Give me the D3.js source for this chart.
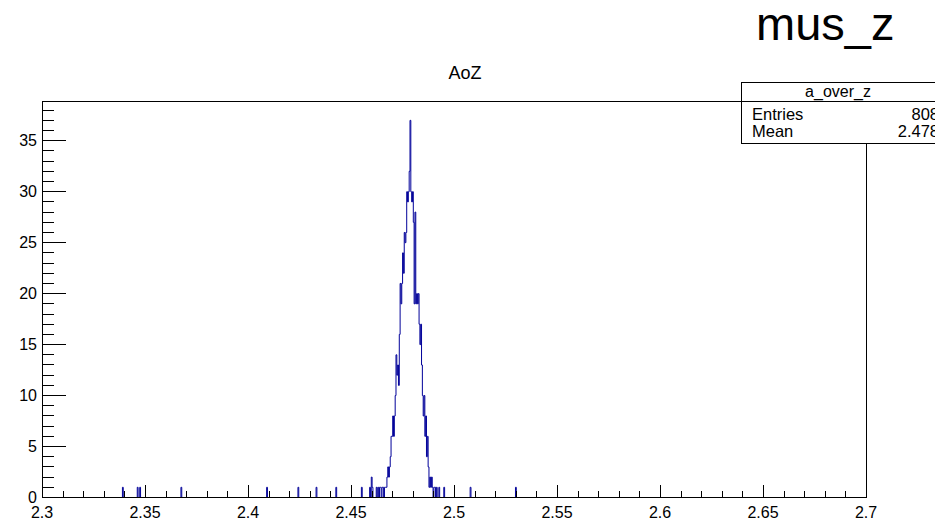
<!DOCTYPE html>
<html>
<head>
<meta charset="utf-8">
<script src="https://cdn.jsdelivr.net/npm/d3@7"></script>
<style>
  html, body { margin: 0; padding: 0; background: #fff; }
  svg { display: block; }
  text { font-family: "Liberation Sans", Arial, Helvetica, sans-serif; }
</style>
</head>
<body>
<svg id="chart" width="935" height="521"></svg>
<script>
// ---- histogram definition ----
const nBins = 1000;
const xMin = 2.3;
const xMax = 2.7;
// non-empty bins (bin index) and their contents
const binIndex = [
  97, 115, 118, 168, 272, 310, 332, 356, 387,
  397, 399, 400, 405, 407, 409, 410, 412, 413, 415, 416, 417,
  418, 419, 420, 421, 422, 423, 424, 425, 426, 427,
  428, 429, 430, 431, 432, 433, 434, 435, 436, 437,
  438, 439, 440, 441, 442, 443, 444, 445, 446, 447,
  448, 449, 450, 451, 452, 453, 454, 455, 456, 457,
  458, 459, 460, 461, 462, 463, 464, 465, 466, 467,
  468, 469, 470, 471, 472, 473,
  475, 476, 478, 481, 487, 519, 574
];
const binCounts = [
  1, 1, 1, 1, 1, 1, 1, 1, 1,
  1, 2, 1, 1, 1, 1, 1, 1, 1, 1, 1, 1,
  2, 3, 2, 3, 4, 6, 6, 8, 6, 8,
  10, 14, 12, 13, 11, 16, 21, 19, 21, 24,
  22, 26, 25, 26, 30, 29, 30, 32, 37, 30,
  29, 30, 27, 19, 28, 19, 20, 19, 20, 17,
  15, 17, 13, 10, 8, 10, 6, 8, 4, 6,
  3, 1, 2, 1, 2, 1,
  1, 1, 1, 1, 1, 1, 1
];
const yMaxValue = 37 * 1.05;
const yTickLabels = [0, 5, 10, 15, 20, 25, 30, 35];
const xTickLabels = [2.3, 2.35, 2.4, 2.45, 2.5, 2.55, 2.6, 2.65, 2.7];
const histTitle = "AoZ";
const canvasName = "mus_z";
const statsName = "a_over_z";
const statsRows = [["Entries", "808"], ["Mean", "2.478"]];

// ---- layout ----
const frame = { left: 42, right: 866, top: 101, bottom: 497 };
const svg = d3.select("#chart");
const x = d3.scaleLinear().domain([xMin, xMax]).range([frame.left, frame.right]);
const y = d3.scaleLinear().domain([0, yMaxValue]).range([frame.bottom, frame.top]);

// full bin contents
const counts = new Array(nBins).fill(0);
binIndex.forEach((b, i) => { counts[b] = binCounts[i]; });
const binW = (xMax - xMin) / nBins;

// histogram step path
const pts = [[x(xMin), y(0)]];
for (let i = 0; i < nBins; i++) {
  const x0 = x(xMin + i * binW), x1 = x(xMin + (i + 1) * binW);
  pts.push([x0, y(counts[i])]);
  pts.push([x1, y(counts[i])]);
}
pts.push([x(xMax), y(0)]);
svg.append("path")
  .attr("transform", "translate(0.5,0.5)")
  .attr("d", d3.line()(pts))
  .attr("fill", "none")
  .attr("stroke", "#000099")
  .attr("stroke-width", 1);

// frame
svg.append("rect")
  .attr("x", frame.left + 0.5).attr("y", frame.top + 0.5)
  .attr("width", frame.right - frame.left).attr("height", frame.bottom - frame.top)
  .attr("fill", "none").attr("stroke", "#000").attr("stroke-width", 1)
  .attr("shape-rendering", "crispEdges");

// x axis ticks (inward)
const xMajor = d3.range(0, 9).map(i => xMin + i * 0.05);
const xMinor = d3.range(0, 41).map(i => xMin + i * 0.01);
const gx = svg.append("g").attr("shape-rendering", "crispEdges");
xMinor.forEach(v => {
  gx.append("line").attr("x1", Math.round(x(v)) + 0.5).attr("x2", Math.round(x(v)) + 0.5)
    .attr("y1", frame.bottom).attr("y2", frame.bottom - 6).attr("stroke", "#000");
});
xMajor.forEach(v => {
  gx.append("line").attr("x1", Math.round(x(v)) + 0.5).attr("x2", Math.round(x(v)) + 0.5)
    .attr("y1", frame.bottom).attr("y2", frame.bottom - 12).attr("stroke", "#000");
});
xTickLabels.forEach(v => {
  svg.append("text").attr("x", x(v)).attr("y", 518)
    .attr("text-anchor", "middle").attr("font-size", 16).attr("fill", "#000")
    .text(String(v));
});

// y axis ticks (inward)
const gy = svg.append("g").attr("shape-rendering", "crispEdges");
d3.range(0, 39).forEach(v => {
  const len = v % 5 === 0 ? 24 : 12;
  gy.append("line").attr("x1", frame.left).attr("x2", frame.left + len)
    .attr("y1", Math.round(y(v)) + 0.5).attr("y2", Math.round(y(v)) + 0.5).attr("stroke", "#000");
});
yTickLabels.forEach(v => {
  svg.append("text").attr("x", 37).attr("y", y(v) + 5.5)
    .attr("text-anchor", "end").attr("font-size", 16).attr("fill", "#000")
    .text(String(v));
});

// title
svg.append("text").attr("x", 465).attr("y", 79).attr("text-anchor", "middle")
  .attr("font-size", 18).attr("fill", "#000").text(histTitle);

// canvas name
svg.append("text").attr("x", 756).attr("y", 40).attr("text-anchor", "start")
  .attr("font-size", 47).attr("fill", "#000").text(canvasName);

// stats box
const sb = { left: 741, top: 82, right: 940, bottom: 143, sep: 101 };
svg.append("rect").attr("x", sb.left + 0.5).attr("y", sb.top + 0.5)
  .attr("width", sb.right - sb.left).attr("height", sb.bottom - sb.top)
  .attr("fill", "#fff").attr("stroke", "#000").attr("shape-rendering", "crispEdges");
svg.append("line").attr("x1", sb.left).attr("x2", sb.right)
  .attr("y1", sb.sep + 0.5).attr("y2", sb.sep + 0.5).attr("stroke", "#000")
  .attr("shape-rendering", "crispEdges");
svg.append("text").attr("x", 838).attr("y", 97).attr("text-anchor", "middle")
  .attr("font-size", 16).attr("fill", "#000").text(statsName);
statsRows.forEach((r, i) => {
  const yy = 120 + i * 17;
  svg.append("text").attr("x", 752).attr("y", yy).attr("font-size", 16.5)
    .attr("fill", "#000").text(r[0]);
  svg.append("text").attr("x", 939).attr("y", yy).attr("text-anchor", "end")
    .attr("font-size", 16.5).attr("fill", "#000").text(r[1]);
});
</script>
</body>
</html>
